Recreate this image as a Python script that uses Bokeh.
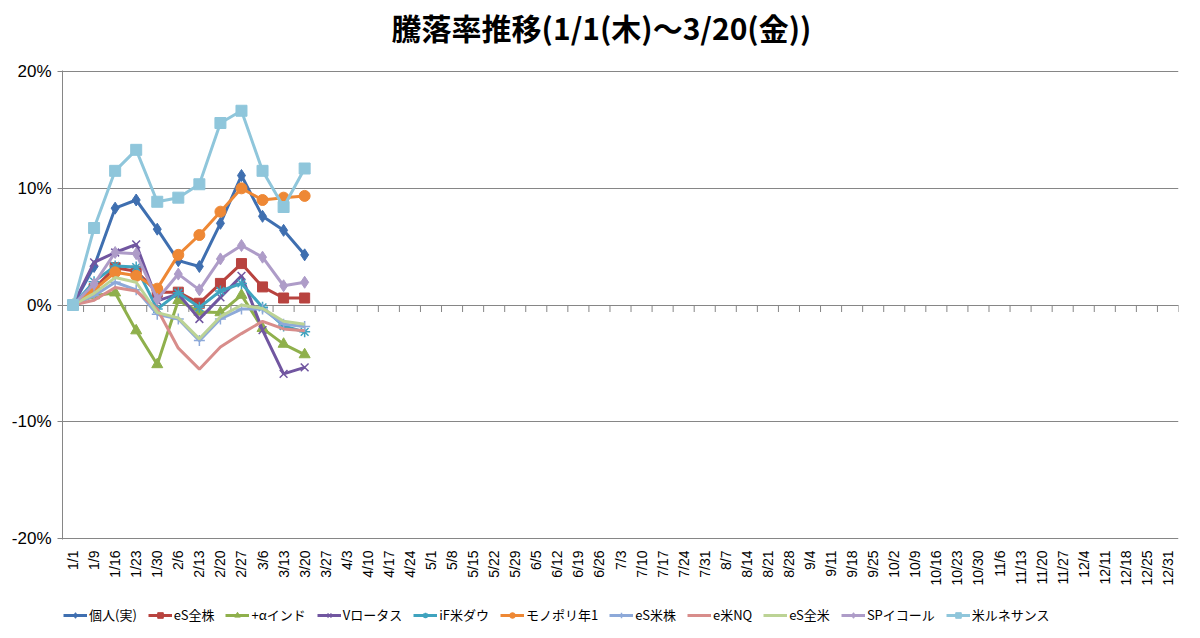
import numpy as np
from bokeh.plotting import figure
from bokeh.layouts import column
from bokeh.models import (Legend, LegendItem, FixedTicker, Range1d, PrintfTickFormatter, Label)
from bokeh.embed import file_html
from bokeh.resources import INLINE

dates = ["1/1", "1/9", "1/16", "1/23", "1/30", "2/6", "2/13", "2/20", "2/27", "3/6",
         "3/13", "3/20", "3/27", "4/3", "4/10", "4/17", "4/24", "5/1", "5/8", "5/15",
         "5/22", "5/29", "6/5", "6/12", "6/19", "6/26", "7/3", "7/10", "7/17", "7/24",
         "7/31", "8/7", "8/14", "8/21", "8/28", "9/4", "9/11", "9/18", "9/25", "10/2",
         "10/9", "10/16", "10/23", "10/30", "11/6", "11/13", "11/20", "11/27", "12/4",
         "12/11", "12/18", "12/25", "12/31"]

y_ticks = [-20, -10, 0, 10, 20]

title_text = "騰落率推移(1/1(木)～3/20(金))"

# values in percent, one per week from 1/1 to 3/20
kojin      = [0, 3.3, 8.3, 9.0, 6.5, 3.8, 3.3, 7.0, 11.1, 7.6, 6.4, 4.3]
es_zenkabu = [0, 1.4, 3.2, 2.9, 1.1, 1.1, 0.15, 1.85, 3.55, 1.55, 0.6, 0.6]
alpha_ind  = [0, 0.8, 1.05, -2.2, -5.1, 0.4, -0.6, -0.65, 0.85, -2.0, -3.35, -4.25]
v_lotus    = [0, 3.65, 4.5, 5.2, 0.35, 0.95, -1.2, 0.65, 2.5, -2.15, -5.9, -5.35]
if_dow     = [0, 2.0, 3.35, 3.25, -0.35, 1.05, -0.2, 1.2, 1.85, -0.2, -1.8, -2.3]
monopoly   = [0, 1.3, 2.8, 2.5, 1.4, 4.3, 6.0, 8.0, 10.0, 9.0, 9.2, 9.35]
es_beikabu = [0, 0.8, 1.95, 1.3, -0.8, -1.2, -3.05, -1.2, -0.35, -0.35, -1.65, -1.85]
e_nq       = [0, 0.4, 1.5, 1.2, -0.35, -3.7, -5.5, -3.6, -2.45, -1.4, -2.05, -2.2]
es_zenbei  = [0, 1.0, 2.35, 1.95, -0.65, -1.1, -2.9, -1.0, 0.0, -0.3, -1.4, -1.65]
sp_equal   = [0, 1.8, 4.5, 4.4, 0.5, 2.65, 1.3, 3.95, 5.1, 4.1, 1.65, 1.95]
renaissance = [0, 6.6, 11.5, 13.3, 8.85, 9.2, 10.35, 15.6, 16.65, 11.5, 8.4, 11.7]

series = [
    ("個人(実)", kojin, "#3F6FB0", "diamond", 12),
    ("eS全株", es_zenkabu, "#B8433F", "square", 10),
    ("+αインド", alpha_ind, "#8FB04C", "triangle", 11),
    ("Vロータス", v_lotus, "#7156A0", "x", 11),
    ("iF米ダウ", if_dow, "#3FA3BE", "asterisk", 11),
    ("モノポリ年1", monopoly, "#EE8835", "circle", 11),
    ("eS米株", es_beikabu, "#8DA9D9", "cross", 11),
    ("e米NQ", e_nq, "#D88D8B", None, 0),
    ("eS全米", es_zenbei, "#BCD395", None, 0),
    ("SPイコール", sp_equal, "#AE9CC8", "diamond", 12),
    ("米ルネサンス", renaissance, "#8FC6DB", "square", 11),
]

GRAY = "#868686"
W = 1200
TITLE_H = 60
MAIN_H = 531
LEG_H = 638 - TITLE_H - MAIN_H


def bare(fig):
    fig.title = None
    fig.outline_line_color = None
    fig.min_border = 0
    fig.background_fill_color = "white"
    fig.border_fill_color = "white"
    fig.xgrid.visible = False
    fig.ygrid.visible = False


# ---- title strip (its frame is aligned with the chart frame, x 62..1178) ----
pt = figure(width=W, height=TITLE_H, output_backend="svg", toolbar_location=None,
            x_range=Range1d(62, 1178), y_range=Range1d(0, TITLE_H),
            x_axis_type=None, y_axis_type=None)
bare(pt)
pt.add_layout(Label(x=601, y=TITLE_H - 26, text=title_text, text_align="center",
                    text_baseline="middle", text_font="Noto Sans CJK JP",
                    text_font_size="30px", text_font_style="bold", text_color="#000000"))

# ---- main chart ----
p = figure(width=W, height=MAIN_H, output_backend="svg", toolbar_location=None,
           x_range=Range1d(-0.5, 52.5), y_range=Range1d(-20.1, 20.1),
           background_fill_color="white", border_fill_color="white")
p.title = None
p.outline_line_color = None
p.min_border_left = 62
p.min_border_right = 22
p.min_border_top = 10
p.min_border_bottom = 52

p.yaxis.ticker = FixedTicker(ticks=y_ticks)
p.yaxis.formatter = PrintfTickFormatter(format="%d%%")
p.yaxis.axis_line_color = GRAY
p.yaxis.major_tick_line_color = GRAY
p.yaxis.major_tick_out = 5
p.yaxis.major_tick_in = 0
p.yaxis.minor_tick_line_color = None
p.yaxis.major_label_text_font = "Liberation Sans"
p.yaxis.major_label_text_font_size = "17px"
p.yaxis.major_label_text_color = "#000000"
p.yaxis.major_label_standoff = 6

p.xaxis.ticker = FixedTicker(ticks=list(range(len(dates))))
p.xaxis.major_label_overrides = {i: d for i, d in enumerate(dates)}
p.xaxis.major_label_orientation = np.pi / 2
p.xaxis.axis_line_color = None
p.xaxis.major_tick_line_color = None
p.xaxis.minor_tick_line_color = None
p.xaxis.major_label_text_font = "Liberation Sans"
p.xaxis.major_label_text_font_size = "14px"
p.xaxis.major_label_text_color = "#000000"
p.xaxis.major_label_standoff = 5

p.xgrid.grid_line_color = None
p.ygrid.ticker = FixedTicker(ticks=y_ticks)
p.ygrid.grid_line_color = GRAY
p.ygrid.grid_line_width = 1

# tick marks on the 0% category axis, between categories
bx = np.arange(len(dates)) + 0.5
p.segment(x0=bx, y0=np.zeros_like(bx), x1=bx, y1=np.full_like(bx, -0.6),
          line_color=GRAY, line_width=1)

# ---- legend strip (same series drawn outside its visible range; only the legend shows) ----
pl = figure(width=W, height=LEG_H, output_backend="svg", toolbar_location=None,
            x_range=Range1d(0, 1), y_range=Range1d(1000, 1001),
            x_axis_type=None, y_axis_type=None)
bare(pl)

items = []
for name, vals, color, marker, size in series:
    xs = list(range(len(vals)))
    p.line(xs, vals, line_color=color, line_width=3)
    lr = [pl.line(xs, vals, line_color=color, line_width=3)]
    if marker is not None:
        if marker in ("x", "asterisk", "cross"):
            kw = dict(marker=marker, size=size, line_color=color, line_width=1.5,
                      fill_color=color)
        else:
            kw = dict(marker=marker, size=size, line_color=color, fill_color=color)
        p.scatter(xs, vals, **kw)
        kw_leg = dict(kw)
        kw_leg["size"] = max(size - 2, 6)
        lr.append(pl.scatter(xs, vals, **kw_leg))
    items.append(LegendItem(label=name, renderers=lr))

legend = Legend(items=items, orientation="horizontal", location=(1, 14),
                label_text_font="Noto Sans CJK JP", label_text_font_size="13px",
                label_text_color="#000000", glyph_width=24, glyph_height=14,
                label_standoff=2, spacing=11, padding=0, margin=0,
                border_line_color=None, background_fill_alpha=0)
pl.add_layout(legend, "center")

layout = column(pt, p, pl, spacing=0)
open("out.html", "w").write(file_html(layout, INLINE))
